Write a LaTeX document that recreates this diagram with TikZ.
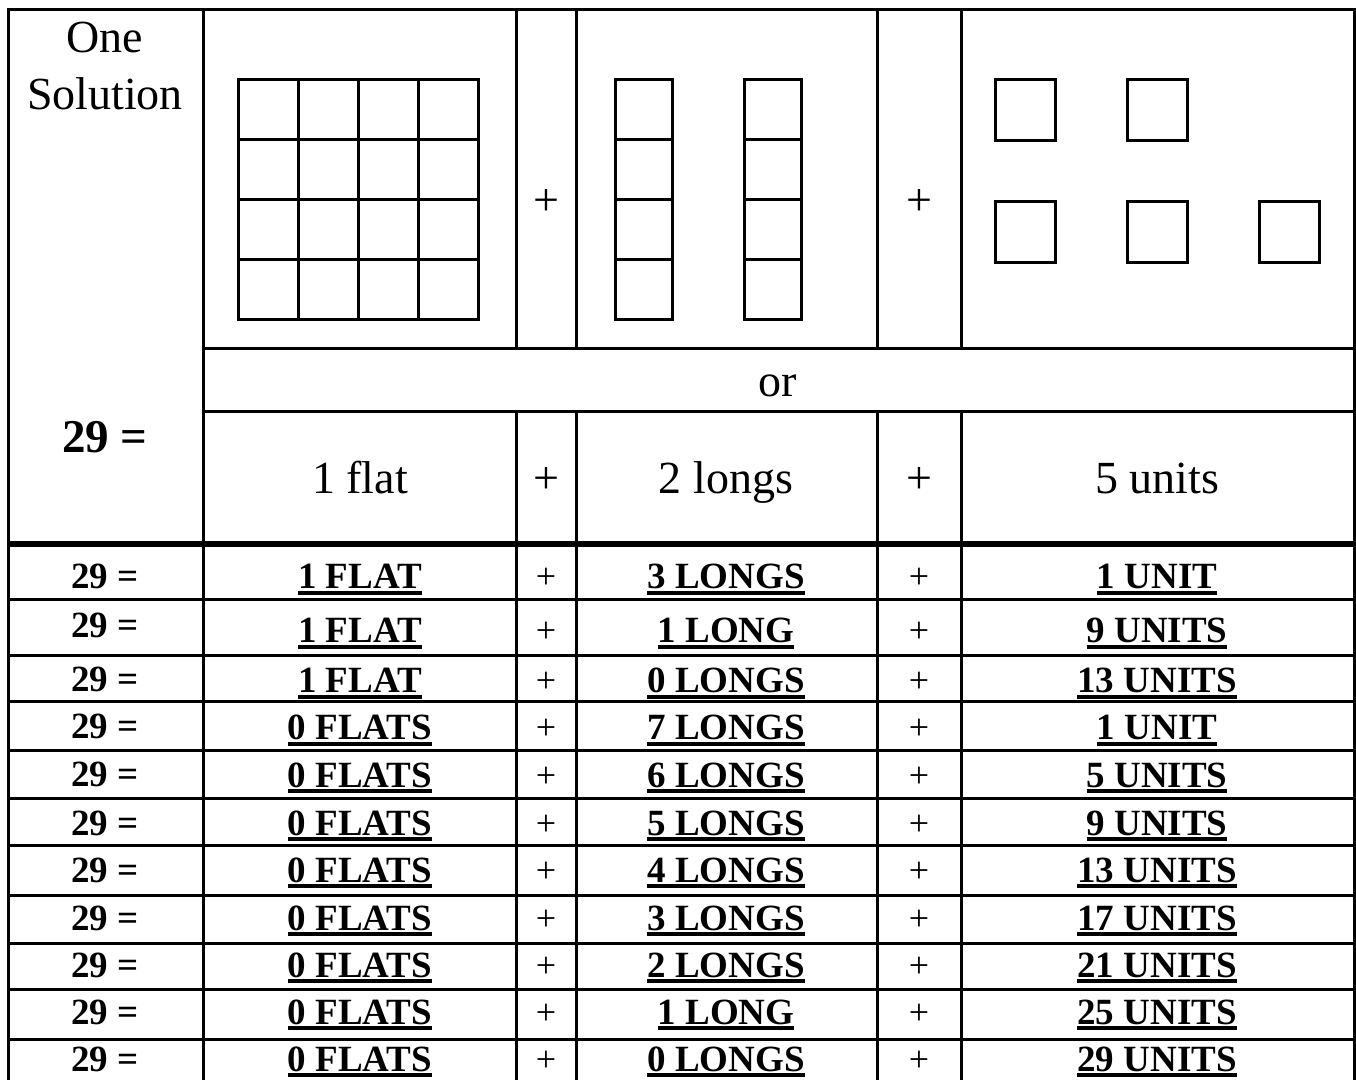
\documentclass[tikz,border=0pt]{standalone}
\usepackage{fontspec}
\setmainfont{Liberation Serif}
\newcommand{\ulword}[1]{\sbox0{#1}\rlap{\usebox0}\rule[-2.8pt]{\wd0}{1.9pt}}
\tikzset{
  big/.style={font=\fontsize{23}{28}\selectfont, inner sep=0pt, anchor=base},
  bigeq/.style={font=\bfseries\fontsize{23.5}{28}\selectfont, inner sep=0pt, anchor=base},
  rowtxt/.style={font=\bfseries\fontsize{18.5}{22}\selectfont, inner sep=0pt, anchor=base},
  rowplus/.style={font=\fontsize{18}{22}\selectfont, inner sep=0pt, anchor=base},
  rule/.style={line width=1.5pt, line cap=rect},
  thickrule/.style={line width=2.6pt},
  block/.style={line width=1.5pt}
}
\begin{document}
\begin{tikzpicture}[x=0.5pt, y=-0.5pt]
\clip (0,0) rectangle (1356,1080);
\fill[white] (0,0) rectangle (1356,1080);

% table frame
\draw[rule] (8,10) -- (1354,10);
\draw[rule] (8,10) -- (8,1085);
\draw[rule] (1354,10) -- (1354,1085);
\draw[rule] (203,10) -- (203,1085);
\foreach \x in {516,576,877,961} {
  \draw[rule] (\x,10) -- (\x,349);
  \draw[rule] (\x,412) -- (\x,1085);
}
\draw[rule] (203,349) -- (1354,349);
\draw[rule] (203,412) -- (1354,412);
\draw[thickrule] (8,544) -- (1354,544);
\foreach \y in {600,656,702,750,798,845,895,943,989,1039}
  \draw[rule] (8,\y) -- (1354,\y);

% flat
\foreach \x in {238,298,358,418}
  \foreach \y in {80,140,200,260}
    \draw[block] (\x,\y) rectangle ++(60,60);
% longs
\foreach \x in {615,744}
  \foreach \y in {80,140,200,260}
    \draw[block] (\x,\y) rectangle ++(57,60);
% units
\foreach \x in {995,1127}
  \draw[block] (\x,80) rectangle ++(60,61);
\foreach \x in {995,1127,1259}
  \draw[block] (\x,202) rectangle ++(60,61);

% header texts
\node[big] (one) at (105,53) {One};
\node[big] (sol) at (105,110) {Solution};
\node[bigeq] (eq) at (105,453) {29 =};
\node[big] (plusA) at (546,216) {+};
\node[big] (plusB) at (919,216) {+};
\node[big] (or) at (778,397) {or};
\node[big] (flat) at (360,494) {1 flat};
\node[big] (plusC) at (546,494) {+};
\node[big] (longs) at (726,494) {2 longs};
\node[big] (plusD) at (919,494) {+};
\node[big] (units) at (1157,494) {5 units};

% solutions
\foreach \y/\yb/\f/\l/\u [count=\i] in {
  589/589/1 FLAT/3 LONGS/1 UNIT,
  638/643/1 FLAT/1 LONG/9 UNITS,
  691/693/1 FLAT/0 LONGS/13 UNITS,
  739/740/0 FLATS/7 LONGS/1 UNIT,
  786/787/0 FLATS/6 LONGS/5 UNITS,
  835/835/0 FLATS/5 LONGS/9 UNITS,
  882/882/0 FLATS/4 LONGS/13 UNITS,
  930/930/0 FLATS/3 LONGS/17 UNITS,
  977/977/0 FLATS/2 LONGS/21 UNITS,
  1024/1024/0 FLATS/1 LONG/25 UNITS,
  1071/1071/0 FLATS/0 LONGS/29 UNITS} {
  \node[rowtxt] (eq\i) at (105,\y) {29 =};
  \node[rowtxt] (fl\i) at (360,\yb) {\ulword{\f}};
  \node[rowplus] (pa\i) at (546,\yb) {+};
  \node[rowtxt] (lo\i) at (726,\yb) {\ulword{\l}};
  \node[rowplus] (pb\i) at (919,\yb) {+};
  \node[rowtxt] (un\i) at (1157,\yb) {\ulword{\u}};
}
\end{tikzpicture}
\end{document}
